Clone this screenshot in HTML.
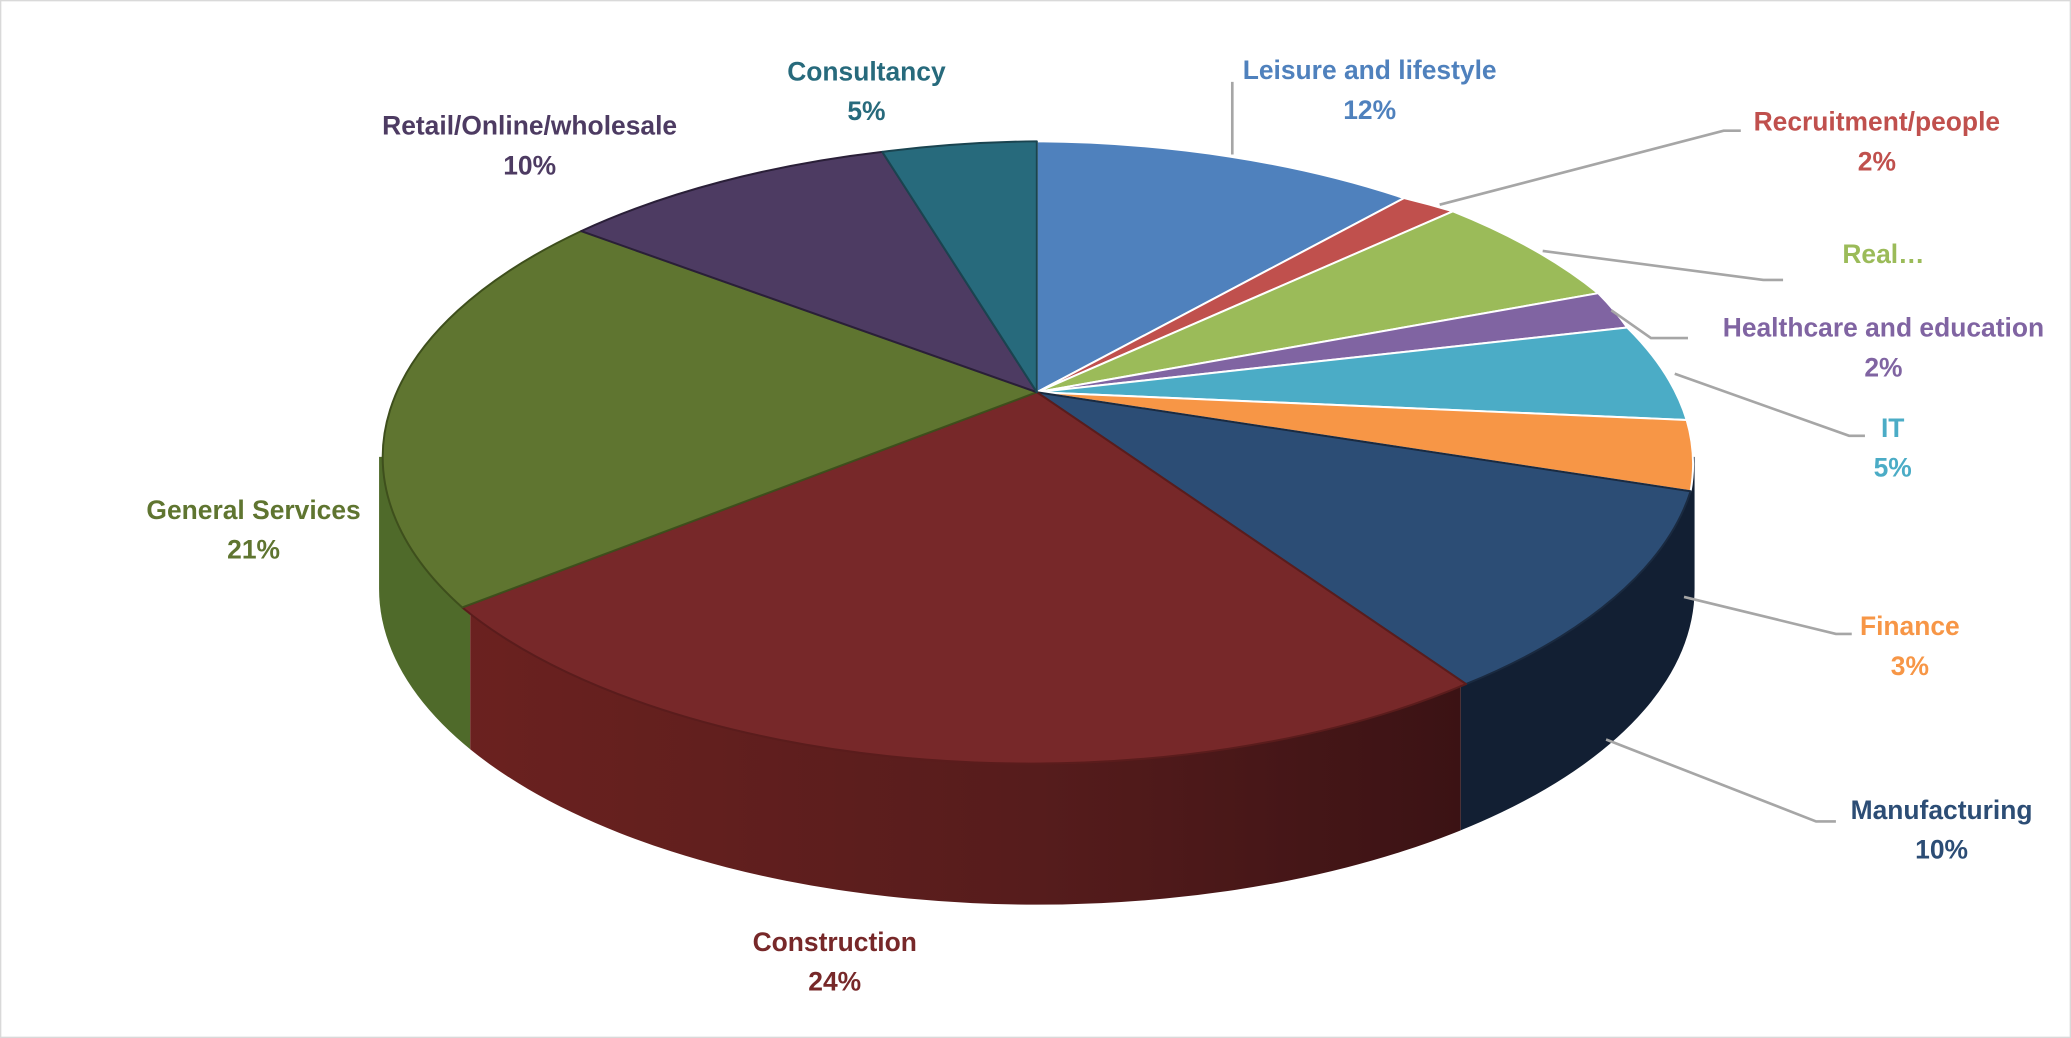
<!DOCTYPE html>
<html><head><meta charset="utf-8"><style>
html,body{margin:0;padding:0;background:#fff}
svg{display:block}
text{font-family:"Liberation Sans",sans-serif;font-weight:bold;font-size:20px;text-anchor:middle}
</style></head><body>
<svg width="2071" height="1038" viewBox="0 0 1568 786" preserveAspectRatio="none">
<defs>
<linearGradient id="cg" x1="0" x2="1" y1="0" y2="0">
<stop offset="0" stop-color="#6e2220"/><stop offset="0.5" stop-color="#561c1c"/><stop offset="1" stop-color="#2c0d10"/></linearGradient>
<clipPath id="cl1"><rect x="280" y="300" width="76" height="400"/></clipPath>
<clipPath id="cl2"><rect x="356" y="300" width="750" height="400"/></clipPath>
<clipPath id="cl3"><rect x="1106" y="300" width="190" height="400"/></clipPath>
</defs>
<rect x="0.5" y="0.5" width="1567" height="785" fill="#fff" stroke="#d9d9d9"/>
<g>
<path d="M287,346 L287,446 A498 239 0 0 0 1283,446 L1283,346 Z" fill="#4f6a2a" clip-path="url(#cl1)"/>
<path d="M287,346 L287,446 A498 239 0 0 0 1283,446 L1283,346 Z" fill="url(#cg)" clip-path="url(#cl2)"/>
<path d="M287,346 L287,446 A498 239 0 0 0 1283,446 L1283,346 Z" fill="#121f33" clip-path="url(#cl3)"/>
</g>
<g stroke-width="1.5" stroke-linejoin="round">
<path d="M785,297 L785,107 A498 239 0 0 1 1063,150 Z" fill="#4f81bd" stroke="#fff"/>
<path d="M785,297 L1063,150 A498 239 0 0 1 1100,160 Z" fill="#c0504d" stroke="#fff"/>
<path d="M785,297 L1100,160 A498 239 0 0 1 1210,222 Z" fill="#9bbb59" stroke="#fff"/>
<path d="M785,297 L1210,222 A498 239 0 0 1 1232,248 Z" fill="#8064a2" stroke="#fff"/>
<path d="M785,297 L1232,248 A498 239 0 0 1 1277,318 Z" fill="#4bacc6" stroke="#fff"/>
<path d="M785,297 L1277,318 A498 239 0 0 1 1280,372 Z" fill="#f79646" stroke="#fff"/>
<path d="M785,297 L1280,372 A498 239 0 0 1 1110,518 Z" fill="#2c4d75" stroke="#1a2a40"/>
<path d="M785,297 L1110,518 A498 239 0 0 1 350,460 Z" fill="#772829" stroke="#5a1c1c"/>
<path d="M785,297 L350,460 A498 239 0 0 1 440,175 Z" fill="#5f7530" stroke="#3e4f1c"/>
<path d="M785,297 L440,175 A498 239 0 0 1 668,115 Z" fill="#4d3b62" stroke="#2a1f38"/>
<path d="M785,297 L668,115 A498 239 0 0 1 785,107 Z" fill="#276a7c" stroke="#1a4450"/>
</g>
<g stroke="#a6a6a6" stroke-width="2" fill="none">
<polyline points="933,117 933,62"/>
<polyline points="1090,155 1305,99 1318,99"/>
<polyline points="1168,190 1335,212 1350,212"/>
<polyline points="1220,235 1250,256 1278,256"/>
<polyline points="1268,283 1400,330 1412,330"/>
<polyline points="1275,452 1390,480 1402,480"/>
<polyline points="1216,560 1375,622 1390,622"/>
</g>
<text x="1037" y="60" fill="#4f81bd">Leisure and lifestyle</text>
<text x="1037" y="90" fill="#4f81bd">12%</text>
<text x="1421" y="99" fill="#c0504d">Recruitment/people</text>
<text x="1421" y="129" fill="#c0504d">2%</text>
<text x="1426" y="199" fill="#9bbb59">Real…</text>
<text x="1426" y="255" fill="#8064a2">Healthcare and education</text>
<text x="1426" y="285" fill="#8064a2">2%</text>
<text x="1433" y="331" fill="#4bacc6">IT</text>
<text x="1433" y="361" fill="#4bacc6">5%</text>
<text x="1446" y="481" fill="#f79646">Finance</text>
<text x="1446" y="511" fill="#f79646">3%</text>
<text x="1470" y="620" fill="#2c4d75">Manufacturing</text>
<text x="1470" y="650" fill="#2c4d75">10%</text>
<text x="632" y="720" fill="#772829">Construction</text>
<text x="632" y="750" fill="#772829">24%</text>
<text x="192" y="393" fill="#5f7530">General Services</text>
<text x="192" y="423" fill="#5f7530">21%</text>
<text x="401" y="102" fill="#4d3b62">Retail/Online/wholesale</text>
<text x="401" y="132" fill="#4d3b62">10%</text>
<text x="656" y="61" fill="#276a7c">Consultancy</text>
<text x="656" y="91" fill="#276a7c">5%</text>
</svg>
</body></html>
